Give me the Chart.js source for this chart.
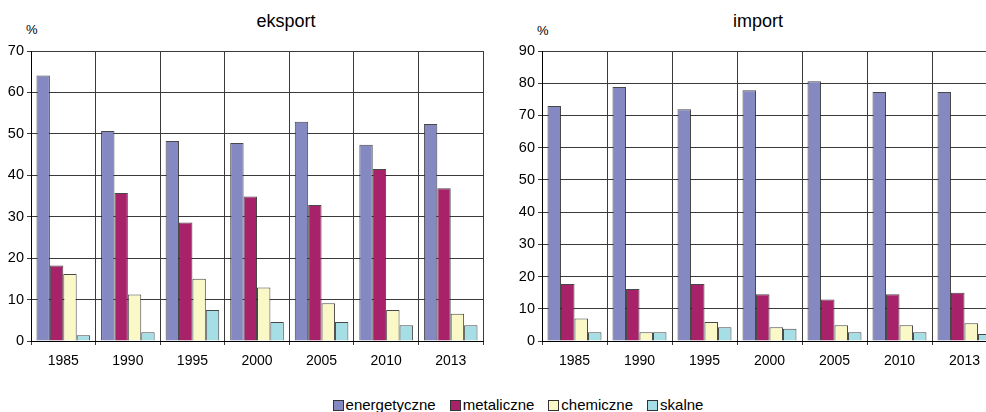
<!DOCTYPE html>
<html>
<head>
<meta charset="utf-8">
<script src="https://cdn.jsdelivr.net/npm/chart.js@4"></script>
<style>
  html, body { margin: 0; padding: 0; background: #fff; }
  body { width: 986px; height: 412px; overflow: hidden; position: relative; font-family: "Liberation Sans", Arial, sans-serif; }
  .box { position: absolute; }
  .title { position: absolute; font-size: 18px; color: #000; transform: translateX(-50%); white-space: nowrap; }
  .unit { position: absolute; font-size: 13px; color: #000; }
  #legend { position: absolute; left: 25px; width: 986px; top: 396px; text-align: center; font-size: 15px; color: #000; white-space: nowrap; }
  #legend span.item { display: inline-block; margin: 0 7px; }
  #legend span.sw { display: inline-block; width: 9px; height: 9px; border: 1px solid #333; margin-right: 2px; vertical-align: -1px; }
</style>
</head>
<body>
<div class="title" style="left:286px; top:11px;">eksport</div>
<div class="title" style="left:758px; top:11px;">import</div>
<div class="unit" style="left:26px; top:22px;">%</div>
<div class="unit" style="left:537px; top:23px;">%</div>
<div class="box" style="left:0px; top:0px;"><canvas id="c1" width="495" height="380"></canvas></div>
<div class="box" style="left:500px; top:0px;"><canvas id="c2" width="512" height="380"></canvas></div>
<div id="legend"></div>
<script>
const years = ['1985', '1990', '1995', '2000', '2005', '2010', '2013'];
const seriesNames = ['energetyczne', 'metaliczne', 'chemiczne', 'skalne'];
const seriesColors = ['#8489C2', '#A8226A', '#FAF8C6', '#A6DEE6'];

const exportEnerg = [64.1, 50.7, 48.3, 47.8, 52.9, 47.4, 52.4];
const exportMetal = [18.2, 35.7, 28.6, 34.9, 32.8, 41.5, 36.9];
const exportChem  = [16.2, 11.2, 15.0, 12.9, 9.1, 7.5, 6.6];
const exportSkal  = [1.4, 2.1, 7.5, 4.6, 4.6, 3.8, 3.8];

const importEnerg = [72.9, 78.8, 71.9, 77.8, 80.6, 77.3, 77.3];
const importMetal = [17.7, 16.1, 17.7, 14.5, 12.9, 14.5, 15.0];
const importChem  = [7.0, 2.7, 5.9, 4.3, 4.9, 4.9, 5.5];
const importSkal  = [2.7, 2.7, 4.3, 3.8, 2.7, 2.7, 2.2];

const exportMax = 70;
const importMax = 90;

function makeDatasets(arrs) {
  return arrs.map((d, i) => ({
    label: seriesNames[i],
    data: d,
    backgroundColor: seriesColors[i],
    borderColor: 'rgba(40,40,40,0.85)',
    borderWidth: 1,
    categoryPercentage: 0.83,
    barPercentage: 1.0
  }));
}

function makeChart(id, arrs, maxV, yWidth, padRight) {
  return new Chart(document.getElementById(id), {
    type: 'bar',
    data: { labels: years, datasets: makeDatasets(arrs) },
    options: {
      responsive: false,
      animation: false,
      layout: { padding: { top: 51, right: padRight, left: 0, bottom: 0 } },
      plugins: { legend: { display: false }, title: { display: false }, tooltip: { enabled: false } },
      scales: {
        x: {
          grid: { offset: true, color: '#3a3a3a', lineWidth: 1, tickLength: 4, drawTicks: true },
          border: { display: true, color: '#000', width: 1 },
          ticks: { color: '#000', font: { family: '"Liberation Sans", Arial, sans-serif', size: 14 }, padding: 8, maxRotation: 0 },
          afterFit: s => { s.height = 39; }
        },
        y: {
          min: 0, max: maxV,
          grid: { color: '#3a3a3a', lineWidth: 1, tickLength: 4, drawTicks: true },
          border: { display: true, color: '#000', width: 1 },
          ticks: { stepSize: 10, color: '#000', font: { family: '"Liberation Sans", Arial, sans-serif', size: 14.5 }, padding: 3 },
          afterFit: s => { s.width = yWidth; }
        }
      }
    }
  });
}

makeChart('c1', [exportEnerg, exportMetal, exportChem, exportSkal], exportMax, 31, 12);
makeChart('c2', [importEnerg, importMetal, importChem, importSkal], importMax, 42, 15);

const lg = document.getElementById('legend');
seriesNames.forEach((n, i) => {
  const it = document.createElement('span');
  it.className = 'item';
  const sw = document.createElement('span');
  sw.className = 'sw';
  sw.style.background = seriesColors[i];
  it.appendChild(sw);
  it.appendChild(document.createTextNode(n));
  lg.appendChild(it);
});
</script>
</body>
</html>
